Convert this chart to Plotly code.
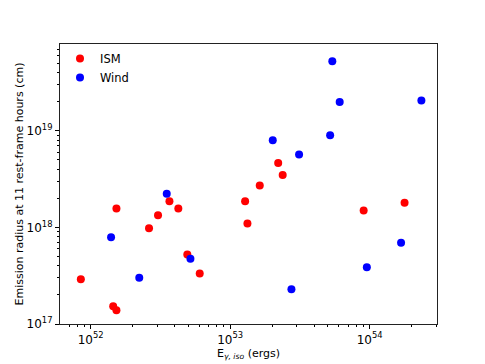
import plotly.graph_objects as go

ism_energy = [8.5e51, 1.45e52, 1.53e52, 1.53e52, 2.62e52, 3.04e52, 3.67e52, 4.25e52, 4.93e52,
              6.05e52, 1.28e53, 1.33e53, 1.63e53, 2.21e53, 2.38e53, 9.06e53, 1.78e54]
ism_radius = [2.9e17, 1.53e17, 1.39e17, 1.57e18, 9.8e17, 1.34e18, 1.87e18, 1.57e18, 5.26e17,
              3.34e17, 1.87e18, 1.1e18, 2.72e18, 4.66e18, 3.5e18, 1.5e18, 1.8e18]

wind_energy = [1.4e52, 2.23e52, 3.51e52, 5.19e52, 2.02e53, 3.12e53, 2.75e53, 5.4e53, 6.1e53,
               5.21e53, 2.35e54, 9.55e53, 1.68e54]
wind_radius = [7.9e17, 3.01e17, 2.23e18, 4.73e17, 8.0e18, 5.69e18, 2.29e17, 5.25e19, 1.99e19,
               9.0e18, 2.06e19, 3.88e17, 6.93e17]

x_ticks = [1e52, 1e53, 1e54]
x_labels = ["10<sup>52</sup>", "10<sup>53</sup>", "10<sup>54</sup>"]
y_ticks = [1e17, 1e18, 1e19]
y_labels = ["10<sup>17</sup>", "10<sup>18</sup>", "10<sup>19</sup>"]

def minor_vals(lo, hi):
    return [float(m) * 10.0 ** e for e in range(lo, hi) for m in range(2, 10)]

fig = go.Figure()
fig.add_trace(go.Scatter(x=ism_energy, y=ism_radius, mode="markers", name="ISM",
                         marker=dict(color="red", size=8)))
fig.add_trace(go.Scatter(x=wind_energy, y=wind_radius, mode="markers", name="Wind",
                         marker=dict(color="blue", size=8)))

axis_common = dict(
    type="log", showgrid=False, zeroline=False, showline=True, linecolor="#222",
    linewidth=1.2, mirror=True, ticks="outside", ticklen=4, tickcolor="black",
    tickfont=dict(size=12, color="black"), automargin=False,
)
fig.update_xaxes(
    **axis_common, range=[51.78, 54.483], tickmode="array", tickvals=x_ticks, ticktext=x_labels,
    minor=dict(tickmode="array", tickvals=minor_vals(51, 55), ticks="outside", ticklen=2,
               tickcolor="black", showgrid=False),
    title=dict(text="E<sub><i>γ, iso</i></sub> (ergs)", font=dict(size=11, color="black"), standoff=3),
)
fig.update_yaxes(
    **axis_common, range=[17, 19.9], tickmode="array", tickvals=y_ticks, ticktext=y_labels,
    minor=dict(tickmode="array", tickvals=minor_vals(17, 20), ticks="outside", ticklen=2,
               tickcolor="black", showgrid=False),
    title=dict(text="Emission radius at 11 rest-frame hours (cm)", font=dict(size=11, color="black"),
               standoff=0),
)
fig.update_layout(
    width=485, height=364,
    margin=dict(l=52, r=56, t=36, b=48),
    plot_bgcolor="white", paper_bgcolor="white",
    font=dict(family="DejaVu Sans", color="black"),
    legend=dict(x=0.0, y=1.0, xanchor="left", yanchor="top", bgcolor="rgba(0,0,0,0)",
                font=dict(size=11.5), itemwidth=30),
)
fig.write_html("out.html")
